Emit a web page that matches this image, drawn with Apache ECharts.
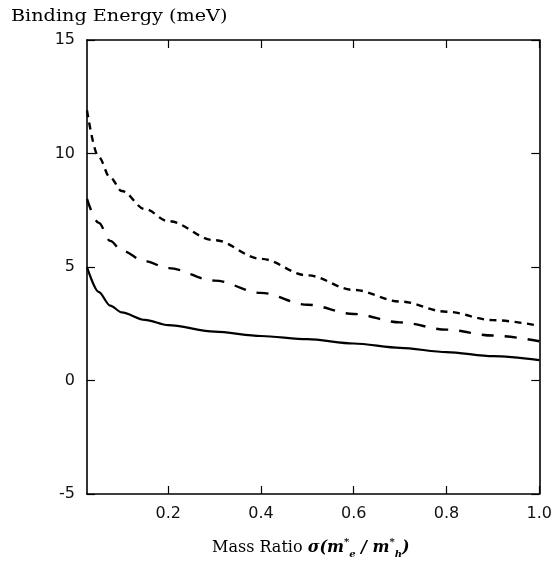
<!DOCTYPE html>
<html>
<head>
<meta charset="utf-8">
<script src="https://cdn.jsdelivr.net/npm/echarts@6/dist/echarts.min.js"></script>
<style>html,body{margin:0;padding:0;background:#fff;}#c{width:555px;height:562px;}</style>
</head>
<body>
<div id="c"></div>
<script>
// Data
const massRatio = [0.025, 0.05, 0.075, 0.1, 0.15, 0.2, 0.3, 0.4, 0.5, 0.6, 0.7, 0.8, 0.9, 1.0];
const solidE    = [5.0, 3.9, 3.3, 3.0, 2.67, 2.44, 2.15, 1.96, 1.82, 1.63, 1.44, 1.25, 1.07, 0.9];
const longDashE = [8.0, 6.95, 6.15, 5.72, 5.25, 4.95, 4.4, 3.86, 3.34, 2.93, 2.56, 2.24, 1.98, 1.73];
const shortDashE= [11.9, 9.85, 8.94, 8.35, 7.55, 7.02, 6.18, 5.36, 4.63, 3.99, 3.48, 3.03, 2.66, 2.41];
const xTicks = [0.2, 0.4, 0.6, 0.8, 1.0];
const yTicks = [-5, 0, 5, 10, 15];

const pairs = arr => massRatio.map((x, i) => [x, arr[i]]);
const chart = echarts.init(document.getElementById('c'), null, {renderer: 'canvas'});

const labelFont = {fontFamily: 'DejaVu Sans', fontSize: 16, color: '#111'};
const baseX = {
  type: 'value', min: 0.025, max: 1.0,
  axisLine: {show: true, onZero: false, lineStyle: {color: '#000', width: 1.6}},
  axisTick: {show: true, inside: true, length: 8, customValues: xTicks, lineStyle: {color: '#000', width: 1.2}},
  splitLine: {show: false}
};
const baseY = {
  type: 'value', min: -5, max: 15, interval: 5,
  axisLine: {show: true, onZero: false, lineStyle: {color: '#000', width: 1.6}},
  axisTick: {show: true, inside: true, length: 8, lineStyle: {color: '#000', width: 1.2}},
  splitLine: {show: false}
};

chart.setOption({
  animation: false,
  backgroundColor: '#fff',
  grid: {left: 87, right: 15, top: 40, bottom: 68, containLabel: false},
  xAxis: [
    Object.assign({}, baseX, {position: 'bottom',
      axisLabel: Object.assign({show: true, margin: 12, customValues: xTicks, formatter: v => v.toFixed(1)}, labelFont)}),
    Object.assign({}, baseX, {position: 'top', axisLabel: {show: false}})
  ],
  yAxis: [
    Object.assign({}, baseY, {position: 'left',
      axisLabel: Object.assign({show: true, margin: 12, formatter: v => String(v)}, labelFont)}),
    Object.assign({}, baseY, {position: 'right', axisLabel: {show: false}})
  ],
  series: [
    {type: 'line', xAxisIndex: 0, yAxisIndex: 0, data: pairs(solidE), showSymbol: false, symbol: 'none',
     smooth: 0.3, smoothMonotone: 'x', lineStyle: {color: '#000', width: 2.2, type: 'solid'}},
    {type: 'line', xAxisIndex: 0, yAxisIndex: 0, data: pairs(longDashE), showSymbol: false, symbol: 'none',
     smooth: 0.35, smoothMonotone: 'x', lineStyle: {color: '#000', width: 2.4, type: [12, 11]}},
    {type: 'line', xAxisIndex: 0, yAxisIndex: 0, data: pairs(shortDashE), showSymbol: false, symbol: 'none',
     smooth: 0.35, smoothMonotone: 'x', lineStyle: {color: '#000', width: 2.4, type: [7, 5.5]}}
  ],
  graphic: [
    {type: 'text', x: 11, y: 9, scaleX: 1.2,
     style: {text: 'Binding Energy (meV)', font: '16px "DejaVu Serif"', fill: '#000'}},
    {type: 'text', x: 212, y: 537,
     style: {
       text: '{a|Mass Ratio }{b|σ(m}{sup|*}{sub|e}{b| / m}{sup|*}{sub|h}{b|)}',
       rich: {
         a:   {fontFamily: 'DejaVu Serif', fontSize: 16, fill: '#000', lineHeight: 22, verticalAlign: 'middle'},
         b:   {fontFamily: 'DejaVu Serif', fontSize: 16, fontStyle: 'italic', fontWeight: 'bold', fill: '#000', lineHeight: 22, verticalAlign: 'middle'},
         sup: {fontFamily: 'DejaVu Serif', fontSize: 10, fontWeight: 'bold', fill: '#000', lineHeight: 22, verticalAlign: 'top'},
         sub: {fontFamily: 'DejaVu Serif', fontSize: 10, fontStyle: 'italic', fontWeight: 'bold', fill: '#000', lineHeight: 22, verticalAlign: 'bottom'}
       }
     }}
  ]
});
</script>
</body>
</html>
